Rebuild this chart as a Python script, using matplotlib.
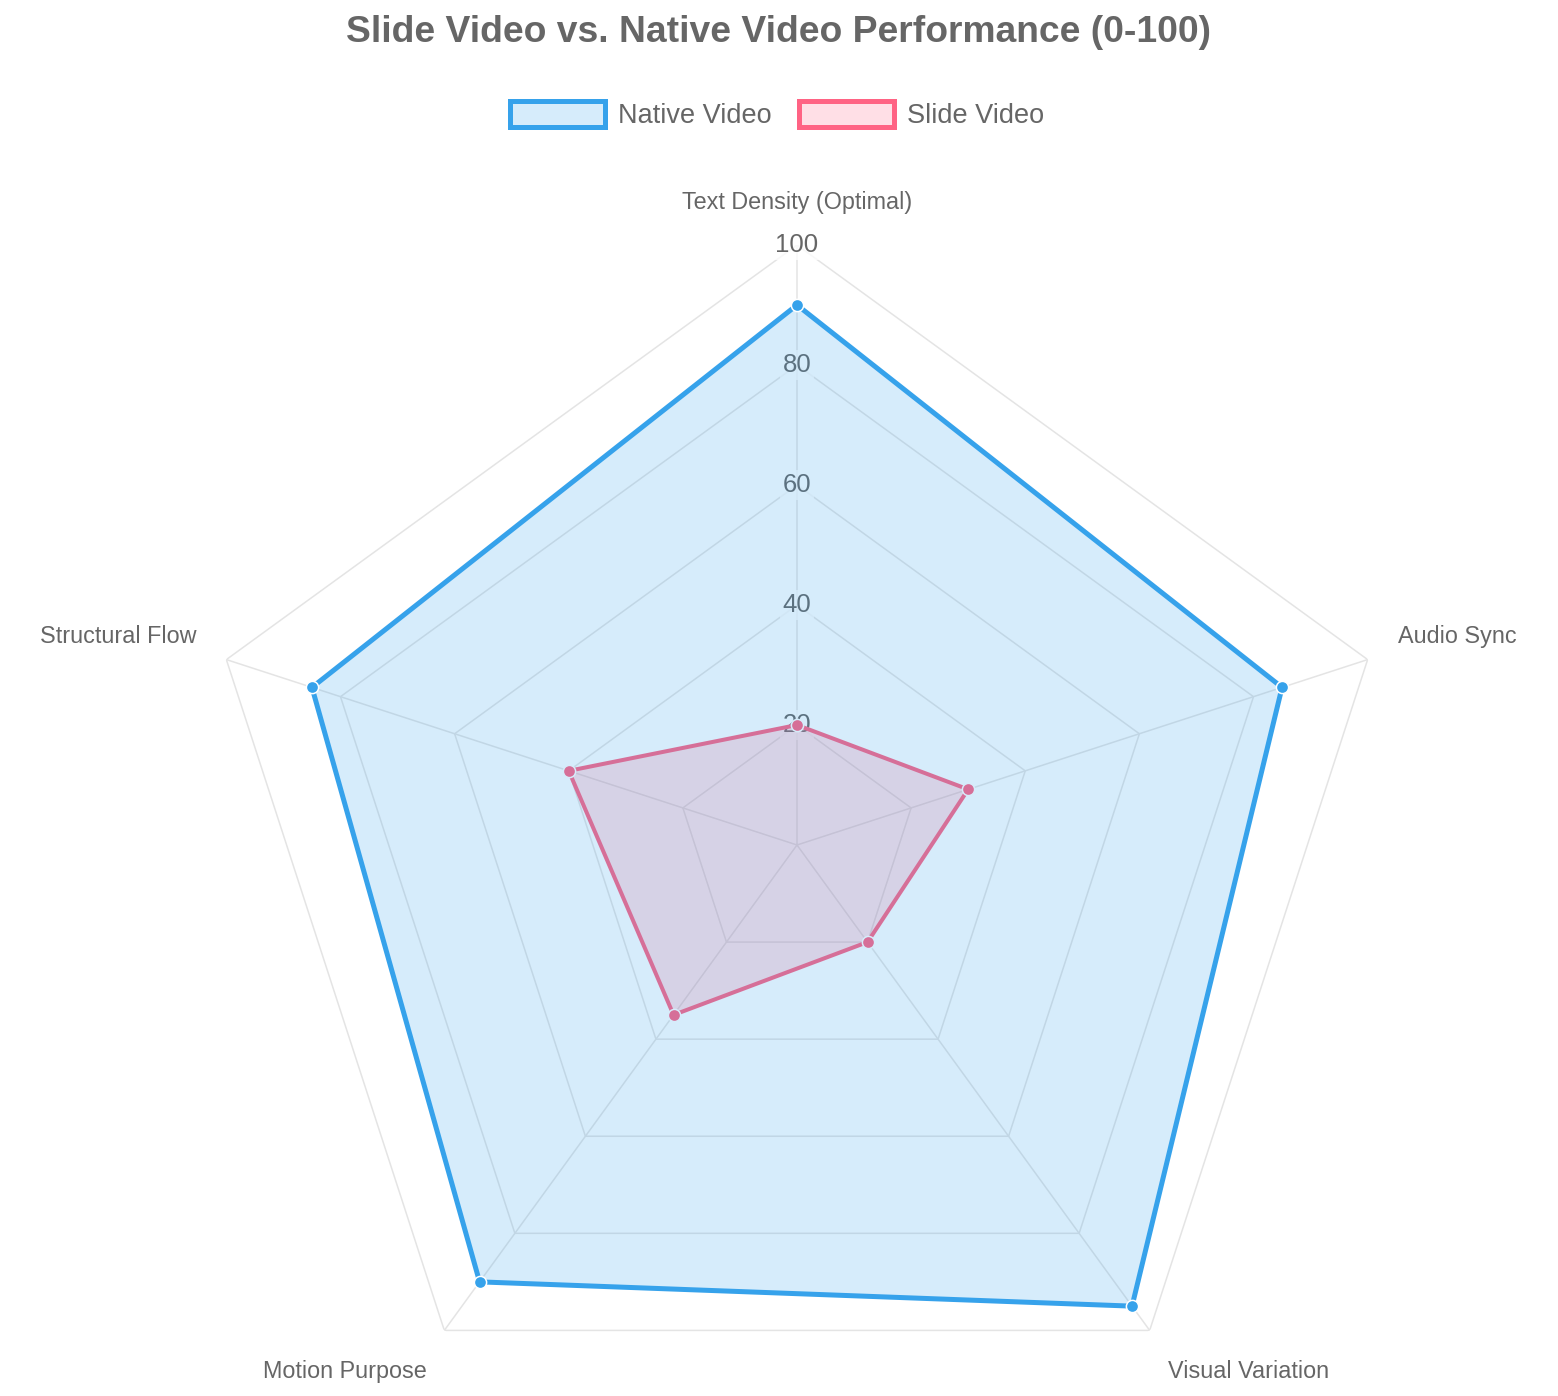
import numpy as np
import matplotlib
matplotlib.use("Agg")
import matplotlib.pyplot as plt
from matplotlib.patches import Patch

plt.rcParams["font.family"] = ["Liberation Sans", "DejaVu Sans"]

# 数据
categories = ["Text Density (Optimal)", "Audio Sync", "Visual Variation",
              "Motion Purpose", "Structural Flow"]
native_video = [90, 85, 95, 90, 85]
slide_video = [20, 30, 20, 35, 40]
r_ticks = [20, 40, 60, 80, 100]

blue = (54 / 255, 162 / 255, 235 / 255)
pink = (255 / 255, 99 / 255, 132 / 255)
text_color = "#666666"
grid_color = "#e4e4e4"

fig = plt.figure(figsize=(15.58, 13.96), dpi=100)
ax = fig.add_axes([197 / 1558, -49 / 1396, 1200 / 1558, 1200 / 1396], polar=True)
ax.set_theta_offset(np.pi / 2)
ax.set_theta_direction(-1)
ax.set_ylim(0, 100)
ax.grid(False)
ax.set_xticks([])
ax.set_yticks([])
ax.spines["polar"].set_visible(False)
ax.patch.set_visible(False)

n = len(categories)
theta = np.linspace(0, 2 * np.pi, n, endpoint=False)
theta_closed = np.append(theta, theta[0])

# 网格
for r in r_ticks:
    ax.plot(theta_closed, [r] * (n + 1), color=grid_color, lw=1.1, zorder=1)
for t in theta:
    ax.plot([t, t], [0, 100], color=grid_color, lw=1.1, zorder=1)

# 刻度标签
for r in r_ticks:
    ax.text(0, r, str(r), ha="center", va="center", fontsize=18.5,
            color=text_color, zorder=2,
            bbox=dict(boxstyle="square,pad=0.1", fc=(1, 1, 1, 0.75), ec="none"))

# 角度标签
label_offsets = [(0, 43), (30, 23), (18, -41), (-18, -41), (-30, 23)]
label_align = [("center", "center"), ("left", "center"), ("left", "center"),
               ("right", "center"), ("right", "center")]
for t, name, off, (ha, va) in zip(theta, categories, label_offsets, label_align):
    ax.annotate(name, xy=(t, 100), xytext=off, textcoords="offset pixels",
                ha=ha, va=va, fontsize=16.8, color=text_color,
                annotation_clip=False)

# 数据集（Slide 在下，Native 在上）
slide_closed = slide_video + slide_video[:1]
native_closed = native_video + native_video[:1]

ax.fill(theta_closed, slide_closed, color=pink, alpha=0.2, lw=0, zorder=3)
ax.plot(theta_closed, slide_closed, color=pink, lw=2.9, zorder=3.1,
        solid_joinstyle="miter")
ax.plot(theta, slide_video, "o", color=pink, ms=8.8, mec="white", mew=1.1,
        zorder=3.2)

ax.fill(theta_closed, native_closed, color=blue, alpha=0.2, lw=0, zorder=4)
ax.plot(theta_closed, native_closed, color=blue, lw=3.6, zorder=4.1,
        solid_joinstyle="miter")
ax.plot(theta, native_video, "o", color=blue, ms=8.8, mec="white", mew=1.1,
        zorder=4.2)

# 标题和图例
fig.text(0.5, 1 - 32 / 1396, "Slide Video vs. Native Video Performance (0-100)",
         ha="center", va="center", fontsize=26.8, fontweight="bold", color=text_color)

handles = [
    Patch(facecolor=(*blue, 0.2), edgecolor=blue, linewidth=3.6, label="Native Video"),
    Patch(facecolor=(*pink, 0.2), edgecolor=pink, linewidth=3.6, label="Slide Video"),
]
fig.legend(handles=handles, loc="center", bbox_to_anchor=(777 / 1558, 1 - 115 / 1396),
           ncol=2, frameon=False, fontsize=19.5, labelcolor=text_color,
           handlelength=3.5, handleheight=1.1, handletextpad=0.5, columnspacing=1.0)

fig.savefig("out.png", dpi=100)
